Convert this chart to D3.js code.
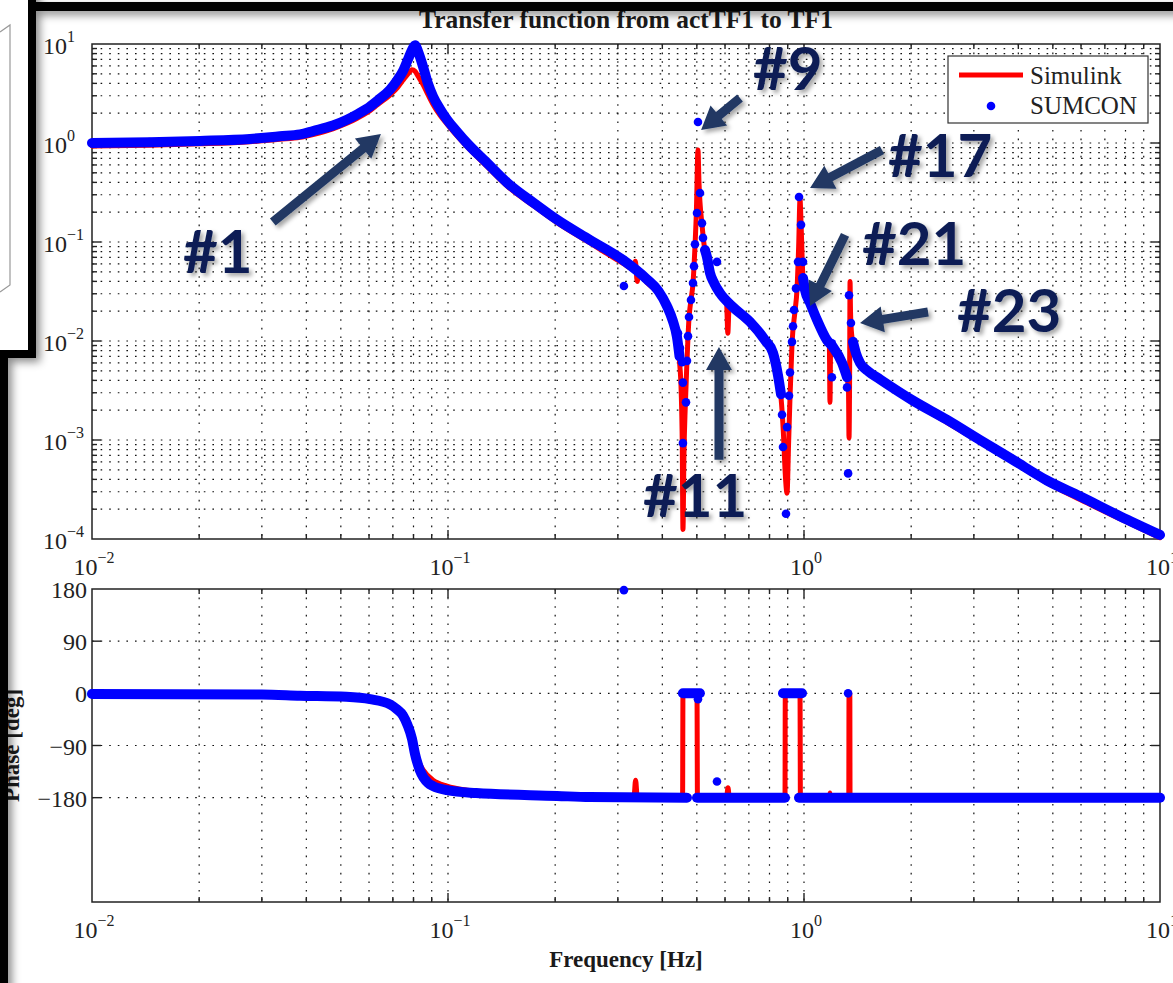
<!DOCTYPE html>
<html>
<head>
<meta charset="utf-8">
<script src="https://cdn.jsdelivr.net/npm/d3@7"></script>
<style>
  body { margin: 0; background: #fff; }
  svg { display: block; }
</style>
</head>
<body>
<div id="chart"></div>
<script>
// ---- values (Hz, abs, deg) ----
const freqDecades = [0.01, 0.1, 1, 10];
const magDecades = [1e-4, 1e-3, 1e-2, 1e-1, 1, 10];
const phaseTicks = [180, 90, 0, -90, -180];
const legendNames = ["Simulink", "SUMCON"];

const simulinkMag = [
  [0.01, 0.935], [0.0145, 0.95], [0.0201, 0.98], [0.0278, 1.03], [0.0337, 1.09], [0.0384, 1.14],
  [0.0418, 1.22], [0.0475, 1.39], [0.052, 1.58], [0.0556, 1.78], [0.0592, 2.02], [0.0635, 2.45],
  [0.0687, 3.05], [0.072, 3.6], [0.0747, 4.3], [0.0772, 5.0], [0.0792, 5.5], [0.0808, 5.3],
  [0.0825, 4.7], [0.0851, 3.9], [0.0878, 3.1], [0.0908, 2.45], [0.095, 1.9], [0.0994, 1.55],
  [0.106, 1.18], [0.113, 0.92], [0.1287, 0.58], [0.1464, 0.37], [0.175, 0.228], [0.2024, 0.157],
  [0.2505, 0.098], [0.31, 0.061], [0.333, 0.053], [0.336, 0.064], [0.34, 0.04], [0.343, 0.049],
  [0.3622, 0.039], [0.39, 0.03], [0.4122, 0.021], [0.428, 0.015], [0.4397, 0.0098], [0.447, 0.0062],
  [0.452, 0.003], [0.455, 0.0009], [0.4571, 0.000125], [0.46, 0.0007], [0.464, 0.0022], [0.4691, 0.0062],
  [0.4753, 0.017], [0.4814, 0.026], [0.4877, 0.038], [0.494, 0.09], [0.4985, 0.2], [0.5037, 0.85],
  [0.507, 0.4], [0.5169, 0.15], [0.5271, 0.079], [0.5445, 0.046], [0.5807, 0.029], [0.606, 0.024],
  [0.611, 0.012], [0.616, 0.022], [0.6318, 0.0207], [0.7054, 0.0146], [0.777, 0.0095], [0.8182, 0.0071],
  [0.8452, 0.0042], [0.8617, 0.0027], [0.875, 0.0012], [0.886, 0.00045], [0.896, 0.00029], [0.905, 0.0009],
  [0.9135, 0.0027], [0.9254, 0.0093], [0.9434, 0.02], [0.9557, 0.033], [0.966, 0.09], [0.9745, 0.27],
  [0.982, 0.14], [0.9936, 0.042], [1.0065, 0.031], [1.04, 0.023], [1.088, 0.0155], [1.16, 0.0097],
  [1.178, 0.0092], [1.183, 0.0024], [1.188, 0.0089], [1.206, 0.0082], [1.279, 0.0057], [1.321, 0.0041],
  [1.333, 0.0035], [1.338, 0.00105], [1.343, 0.004], [1.347, 0.04], [1.351, 0.02], [1.355, 0.0145],
  [1.373, 0.0093], [1.4, 0.0071], [1.437, 0.0057], [1.52, 0.0047], [1.635, 0.0039], [2.024, 0.0024],
  [2.522, 0.0015], [3.122, 0.00095], [3.865, 0.0006], [4.816, 0.00037], [5.962, 0.00025], [7.72, 0.00016],
  [10, 0.000103]
];

// null = break between runs of dense points (isolated points stand alone)
const sumconMag = [
  [0.01, 1.0], [0.0145, 1.02], [0.0201, 1.05], [0.0278, 1.1], [0.0337, 1.17], [0.0384, 1.22],
  [0.0418, 1.32], [0.0475, 1.5], [0.052, 1.72], [0.0556, 1.95], [0.0592, 2.22], [0.0635, 2.7],
  [0.0687, 3.45], [0.072, 4.3], [0.0747, 5.3], [0.0772, 7.0], [0.0792, 8.7], [0.0808, 9.7],
  [0.0825, 8.3], [0.0851, 5.9], [0.0878, 4.0], [0.0908, 2.95], [0.095, 2.2], [0.0994, 1.72],
  [0.106, 1.3], [0.113, 1.0], [0.1287, 0.63], [0.1464, 0.4], [0.175, 0.245], [0.2024, 0.168],
  [0.2505, 0.105], [0.31, 0.066], [0.3622, 0.042], [0.39, 0.032], [0.4122, 0.0225], [0.428, 0.016],
  [0.4397, 0.011], [0.447, 0.007], null,
  [0.312, 0.036], null, [0.4426, 0.012], null, [0.4485, 0.0085], null, [0.4543, 0.0061], null,
  [0.457, 0.0038], null, [0.457, 0.00093], null, [0.4661, 0.0024], null, [0.4691, 0.0063], null,
  [0.4722, 0.0112], null, [0.4753, 0.0175], null, [0.4814, 0.026], null, [0.4877, 0.0385], null,
  [0.4909, 0.057], null, [0.494, 0.095], null, [0.5005, 0.196], null, [0.5103, 0.313], null,
  [0.5037, 1.63], null, [0.5169, 0.155], null, [0.5203, 0.11], null,
  [0.5271, 0.083], [0.5339, 0.0705], [0.5445, 0.0486], [0.56, 0.038], [0.5807, 0.0305], [0.6318, 0.022],
  [0.7054, 0.0156], [0.777, 0.0102], [0.8182, 0.0076], [0.8452, 0.0045], [0.8617, 0.0029], null,
  [0.5696, 0.063], null, [0.8676, 0.0018], null, [0.896, 0.00135], null, [0.873, 0.00085], null,
  [0.89, 0.00018], null, [0.9077, 0.0028], null, [0.9135, 0.0048], null, [0.9254, 0.0098], null,
  [0.9314, 0.0141], null, [0.9374, 0.0206], null, [0.9495, 0.034], null, [0.9619, 0.063], null,
  [0.9936, 0.063], null, [0.981, 0.149], null, [0.9683, 0.285], null,
  [0.9936, 0.0433], [1.0065, 0.0327], [1.04, 0.0242], [1.088, 0.0163], [1.16, 0.0102], [1.206, 0.0087],
  [1.279, 0.006], [1.321, 0.0043], null,
  [1.198, 0.0095], null, [1.198, 0.0043], null, [1.321, 0.0034], null, [1.33, 0.00046], null,
  [1.338, 0.029], null, [1.355, 0.0152], null,
  [1.373, 0.0098], [1.4, 0.0075], [1.437, 0.006], [1.52, 0.0049], [1.635, 0.0041], [2.024, 0.0025],
  [2.522, 0.0016], [3.122, 0.001], [3.865, 0.00063], [4.816, 0.00039], [5.962, 0.00027], [7.72, 0.00017],
  [10, 0.00011]
];

const simulinkPhase = [
  [0.01, 0], [0.03, -1], [0.0384, -3], [0.0518, -5], [0.0604, -9], [0.0687, -17], [0.072, -26],
  [0.0747, -42], [0.077, -62], [0.0792, -85], [0.0808, -102], [0.083, -120], [0.0851, -132],
  [0.0908, -150], [0.0994, -160], [0.113, -167], [0.15, -173], [0.25, -177], [0.333, -178],
  [0.3365, -150], [0.34, -178], [0.456, -179], [0.4571, 0], [0.5005, 0], [0.502, -180], [0.606, -180],
  [0.6116, -163], [0.617, -180], [0.8844, -180], [0.886, 0], [0.9745, 0], [0.977, -180], [1.18, -180],
  [1.183, -172], [1.186, -180], [1.336, -180], [1.338, 0], [1.345, 0], [1.347, -180], [10, -180]
];

const sumconPhase = [
  [0.01, -1], [0.03, -2], [0.0384, -4], [0.0518, -6], [0.0604, -10], [0.0687, -19], [0.072, -28],
  [0.0747, -38], [0.077, -55], [0.0792, -78], [0.0808, -105], [0.0834, -133], [0.088, -155],
  [0.0908, -160], [0.0994, -167], [0.12, -172], [0.2024, -177], [0.25, -179], [0.4691, -180], null,
  [0.457, 0], [0.51, 0], null,
  [0.5005, -180], [0.8844, -180], null,
  [0.873, 0], [0.987, 0], null,
  [0.9683, -180], [10, -180], null,
  [0.312, 178], null, [0.5037, -10], null, [0.5696, -152], null, [1.33, 0], null, [1.33, -180]
];

// slide call-outs, in (Hz, abs) of the magnitude plot
const noteLabels = ["#1", "#9", "#17", "#21", "#23", "#11"];
const noteTips = [[0.0648, 1.23], [0.514, 1.35], [1.04, 0.351], [1.04, 0.0226], [1.437, 0.0152], [0.577, 0.0087]];
const noteTails = [[0.0322, 0.159], [0.661, 2.85], [1.656, 0.85], [1.304, 0.118], [2.23, 0.0196], [0.577, 0.00063]];
const noteSpots = [[0.018, 0.0486], [0.719, 3.43], [1.722, 0.4535], [1.455, 0.0586], [2.69, 0.0123], [0.353, 0.000167]];


const W = 1173, H = 983;
const magBox = {left: 92, right: 1160, top: 44, bottom: 539};
const phBox = {left: 92, right: 1160, top: 589, bottom: 902};
const serif = "'Liberation Serif', 'Times New Roman', serif";

var x = d3.scaleLog().domain([0.01, 10]).range([magBox.left, magBox.right]);
var yMag = d3.scaleLog().domain([1e-4, 10]).range([magBox.bottom, magBox.top]);
var yPh = d3.scaleLinear().domain([-360, 180]).range([phBox.bottom, phBox.top]);

var svg = d3.select("#chart").append("svg")
  .attr("width", W)
  .attr("height", H);

var defs = svg.append("defs");
defs.append("filter").attr("id", "txtShadow").attr("x", "-20%").attr("y", "-20%").attr("width", "150%").attr("height", "150%")
  .append("feDropShadow").attr("dx", 3).attr("dy", 3).attr("stdDeviation", 2)
  .attr("flood-color", "#000").attr("flood-opacity", 0.35);
defs.append("filter").attr("id", "frameShadow").attr("x", "-50%").attr("y", "-50%").attr("width", "200%").attr("height", "200%")
  .append("feDropShadow").attr("dx", 4).attr("dy", 4).attr("stdDeviation", 4)
  .attr("flood-color", "#000").attr("flood-opacity", 0.45);

svg.append("rect").attr("width", W).attr("height", H).attr("fill", "#fff");


function logSteps(decades) {
  // 1..9 x each decade, plus the last one
  var out = [];
  for (var i = 0; i < decades.length - 1; i++)
    for (var k = 1; k < 10; k++) out.push(k * decades[i]);
  out.push(decades[decades.length - 1]);
  return out;
}

function isDecade(v) {
  var e = Math.log10(v);
  return Math.abs(e - Math.round(e)) < 1e-6;
}

function powLabel(sel, v, supDy) {
  var e = Math.round(Math.log10(v));
  sel.append("tspan").text("10");
  sel.append("tspan").attr("dy", supDy).attr("font-size", 16).text(e < 0 ? "\u2212" + (-e) : e);
}

function drawAxes(g, ys, box, xVals, yVals, yGrid) {
  var inside = function(v, s, a, b) { return s(v) > a + 1 && s(v) < b - 1; };

  // dotted grid
  g.append("g").selectAll("line")
    .data(xVals.filter(function(v) { return inside(v, x, box.left, box.right); }))
    .join("line")
    .attr("x1", function(d) { return x(d); }).attr("x2", function(d) { return x(d); })
    .attr("y1", box.top).attr("y2", box.bottom)
    .attr("stroke", "#111").attr("stroke-width", 1.2).attr("stroke-dasharray", "1.6,7");
  g.append("g").selectAll("line")
    .data(yGrid.filter(function(v) { return ys(v) > box.top + 1 && ys(v) < box.bottom - 1; }))
    .join("line")
    .attr("x1", box.left).attr("x2", box.right)
    .attr("y1", function(d) { return ys(d); }).attr("y2", function(d) { return ys(d); })
    .attr("stroke", "#111").attr("stroke-width", 1.2).attr("stroke-dasharray", "1.6,7");

  // box
  g.append("rect")
    .attr("x", box.left).attr("y", box.top)
    .attr("width", box.right - box.left).attr("height", box.bottom - box.top)
    .attr("fill", "none").attr("stroke", "#222").attr("stroke-width", 1.5);

  // ticks, inward on all four sides
  var xt = xVals.filter(function(v) { return inside(v, x, box.left, box.right); });
  var tx = g.append("g").attr("stroke", "#222").attr("stroke-width", 1.4);
  xt.forEach(function(v) {
    var len = isDecade(v) ? 9 : 5;
    tx.append("line").attr("x1", x(v)).attr("x2", x(v)).attr("y1", box.bottom).attr("y2", box.bottom - len);
    tx.append("line").attr("x1", x(v)).attr("x2", x(v)).attr("y1", box.top).attr("y2", box.top + len);
  });
  yVals.forEach(function(v) {
    var yy = ys(v);
    if (yy <= box.top + 1 || yy >= box.bottom - 1) return;
    var len = (ys === yPh || isDecade(v)) ? 9 : 5;
    tx.append("line").attr("x1", box.left).attr("x2", box.left + len).attr("y1", yy).attr("y2", yy);
    tx.append("line").attr("x1", box.right).attr("x2", box.right - len).attr("y1", yy).attr("y2", yy);
  });
}

function splitRuns(data) {
  var runs = [], cur = [];
  data.forEach(function(d) {
    if (d === null) { if (cur.length) runs.push(cur); cur = []; }
    else cur.push(d);
  });
  if (cur.length) runs.push(cur);
  return runs;
}

function drawSimulink(g, data, ys) {
  var line = d3.line().curve(d3.curveMonotoneX)
    .x(function(d) { return x(d[0]); }).y(function(d) { return ys(d[1]); });
  g.append("path").datum(data)
    .attr("d", line)
    .attr("fill", "none").attr("stroke", "#ff0000").attr("stroke-width", 5)
    .attr("stroke-linejoin", "round").attr("stroke-linecap", "round");
}

function drawSumcon(g, data, ys) {
  var line = d3.line().curve(d3.curveMonotoneX)
    .x(function(d) { return x(d[0]); }).y(function(d) { return ys(d[1]); });
  var runs = splitRuns(data);
  g.append("g").selectAll("path")
    .data(runs.filter(function(r) { return r.length > 1; }))
    .join("path")
    .attr("d", line)
    .attr("fill", "none").attr("stroke", "#0000ff").attr("stroke-width", 10)
    .attr("stroke-linejoin", "round").attr("stroke-linecap", "round");
  g.append("g").selectAll("circle")
    .data(data.filter(function(d) { return d !== null; }))
    .join("circle")
    .attr("cx", function(d) { return x(d[0]); })
    .attr("cy", function(d) { return ys(d[1]); })
    .attr("r", 4.3)
    .attr("fill", "#0000ff");
}


// ---------- magnitude ----------
var gMag = svg.append("g");
drawAxes(gMag, yMag, magBox, logSteps(freqDecades), logSteps(magDecades), logSteps(magDecades));

gMag.append("g").selectAll("text")
  .data(magDecades)
  .join("text")
  .attr("x", 43)
  .attr("y", function(d) { return yMag(d) + 10; })
  .attr("font-family", serif).attr("font-size", 24).attr("fill", "#222")
  .each(function(d) { powLabel(d3.select(this), d, -12); });

gMag.append("g").selectAll("text")
  .data(freqDecades)
  .join("text")
  .attr("x", function(d) { return x(d) + 2; })
  .attr("y", 575)
  .attr("text-anchor", "middle")
  .attr("font-family", serif).attr("font-size", 24).attr("fill", "#222")
  .each(function(d) { powLabel(d3.select(this), d, -12); });

drawSimulink(gMag, simulinkMag, yMag);
drawSumcon(gMag, sumconMag, yMag);

svg.append("text")
  .attr("x", (magBox.left + magBox.right) / 2)
  .attr("y", 28)
  .attr("text-anchor", "middle")
  .attr("font-family", serif).attr("font-size", 25.5).attr("font-weight", "bold").attr("fill", "#1a1a1a")
  .text("Transfer function from actTF1 to TF1");

// legend
var lg = gMag.append("g").attr("transform", "translate(" + (magBox.right - 212) + "," + (magBox.top + 12) + ")");
lg.append("rect").attr("width", 200).attr("height", 67)
  .attr("fill", "#fff").attr("stroke", "#333").attr("stroke-width", 1.2);
lg.append("line").attr("x1", 11).attr("x2", 75).attr("y1", 19).attr("y2", 19)
  .attr("stroke", "#ff0000").attr("stroke-width", 5);
lg.append("circle").attr("cx", 43).attr("cy", 50).attr("r", 4.3).attr("fill", "#0000ff");
lg.selectAll("text")
  .data(legendNames)
  .join("text")
  .attr("x", 82)
  .attr("y", function(d, i) { return 28 + i * 30; })
  .attr("font-family", serif).attr("font-size", 25).attr("fill", "#222")
  .text(function(d) { return d; });


// ---------- phase ----------
var gPh = svg.append("g");
drawAxes(gPh, yPh, phBox, logSteps(freqDecades), phaseTicks, phaseTicks);

gPh.append("g").selectAll("text")
  .data(phaseTicks)
  .join("text")
  .attr("x", 87)
  .attr("y", function(d) { return yPh(d) + 9; })
  .attr("text-anchor", "end")
  .attr("font-family", serif).attr("font-size", 24).attr("fill", "#222")
  .text(function(d) { return d < 0 ? "\u2212" + (-d) : d; });

gPh.append("g").selectAll("text")
  .data(freqDecades)
  .join("text")
  .attr("x", function(d) { return x(d) + 2; })
  .attr("y", 938)
  .attr("text-anchor", "middle")
  .attr("font-family", serif).attr("font-size", 24).attr("fill", "#222")
  .each(function(d) { powLabel(d3.select(this), d, -12); });

drawSimulink(gPh, simulinkPhase, yPh);
drawSumcon(gPh, sumconPhase, yPh);

svg.append("text")
  .attr("x", (phBox.left + phBox.right) / 2)
  .attr("y", 967)
  .attr("text-anchor", "middle")
  .attr("font-family", serif).attr("font-size", 23).attr("font-weight", "bold").attr("fill", "#1a1a1a")
  .text("Frequency [Hz]");

svg.append("text")
  .attr("transform", "translate(19," + ((phBox.top + phBox.bottom) / 2) + ") rotate(-90)")
  .attr("text-anchor", "middle")
  .attr("font-family", serif).attr("font-size", 23).attr("font-weight", "bold").attr("fill", "#1a1a1a")
  .text("Phase [deg]");


// ---------- call-outs ----------
function arrowPoints(tail, tip) {
  var dx = tip[0] - tail[0], dy = tip[1] - tail[1];
  var len = Math.sqrt(dx * dx + dy * dy);
  var ux = dx / len, uy = dy / len, nx = -uy, ny = ux;
  var w = 4.5, hw = 13, hl = 23;
  var bx = tip[0] - ux * hl, by = tip[1] - uy * hl;
  return [
    [tail[0] + nx * w, tail[1] + ny * w], [bx + nx * w, by + ny * w], [bx + nx * hw, by + ny * hw],
    tip, [bx - nx * hw, by - ny * hw], [bx - nx * w, by - ny * w], [tail[0] - nx * w, tail[1] - ny * w]
  ];
}

var gNotes = svg.append("g").attr("filter", "url(#txtShadow)");
gNotes.selectAll("polygon")
  .data(d3.range(noteLabels.length))
  .join("polygon")
  .attr("points", function(i) {
    var t = [x(noteTails[i][0]), yMag(noteTails[i][1])];
    var p = [x(noteTips[i][0]), yMag(noteTips[i][1])];
    return arrowPoints(t, p).map(function(q) { return q.join(","); }).join(" ");
  })
  .attr("fill", "#203864");

gNotes.selectAll("text")
  .data(d3.range(noteLabels.length))
  .join("text")
  .attr("x", function(i) { return x(noteSpots[i][0]); })
  .attr("y", function(i) { return yMag(noteSpots[i][1]); })
  .attr("font-family", "Lato, 'Open Sans', sans-serif").attr("font-size", 60).attr("font-weight", "bold")
  .attr("fill", "#0c1f55")
  .text(function(i) { return noteLabels[i]; });


// ---------- slide frame and inset box ----------
var gFrame = svg.append("g").attr("filter", "url(#frameShadow)");
gFrame.append("rect").attr("x", 30).attr("y", 2).attr("width", 1200).attr("height", 9).attr("fill", "#000");
gFrame.append("rect").attr("x", -4).attr("y", 340).attr("width", 12).attr("height", 700).attr("fill", "#000");
gFrame.append("rect").attr("x", -20).attr("y", -20).attr("width", 52).attr("height", 374)
  .attr("fill", "#fff").attr("stroke", "#000").attr("stroke-width", 8);

svg.append("polyline")
  .attr("points", "0,32 10,25 10,285 0,292")
  .attr("fill", "none").attr("stroke", "#999").attr("stroke-width", 1.2);
</script>
</body>
</html>
